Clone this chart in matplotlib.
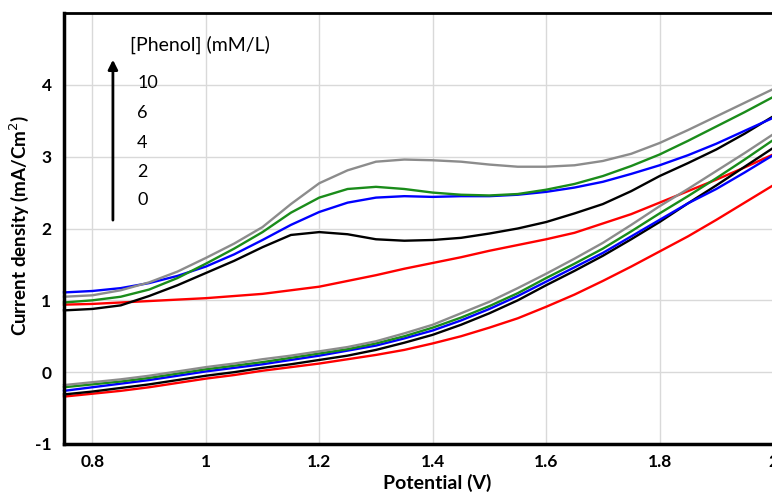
import matplotlib
matplotlib.use('Agg')
import matplotlib.pyplot as plt

plt.rcParams['axes.unicode_minus'] = False

# potential grid (V), shared by all branches
potential = [0.75, 0.80, 0.85, 0.90, 0.95, 1.00, 1.05, 1.10, 1.15, 1.20, 1.25, 1.30, 1.35,
             1.40, 1.45, 1.50, 1.55, 1.60, 1.65, 1.70, 1.75, 1.80, 1.85, 1.90, 1.95, 2.00]

# forward (upper) branches, mA/cm2
up_0 = [0.94, 0.95, 0.97, 0.99, 1.01, 1.03, 1.06, 1.09, 1.14, 1.19, 1.27, 1.35, 1.44,
        1.52, 1.60, 1.69, 1.77, 1.85, 1.94, 2.07, 2.20, 2.36, 2.52, 2.68, 2.85, 3.03]
up_2 = [0.86, 0.88, 0.93, 1.06, 1.21, 1.38, 1.55, 1.74, 1.91, 1.95, 1.92, 1.85, 1.83,
        1.84, 1.87, 1.93, 2.00, 2.09, 2.21, 2.34, 2.52, 2.73, 2.91, 3.10, 3.32, 3.56]
up_4 = [1.11, 1.13, 1.17, 1.24, 1.34, 1.47, 1.64, 1.84, 2.05, 2.23, 2.36, 2.43, 2.45,
        2.44, 2.45, 2.45, 2.47, 2.51, 2.57, 2.65, 2.76, 2.88, 3.02, 3.18, 3.36, 3.54]
up_6 = [0.97, 1.00, 1.05, 1.15, 1.31, 1.51, 1.72, 1.95, 2.22, 2.43, 2.55, 2.58, 2.55,
        2.50, 2.47, 2.46, 2.48, 2.54, 2.62, 2.73, 2.87, 3.03, 3.22, 3.42, 3.62, 3.83]
up_10 = [1.05, 1.07, 1.14, 1.25, 1.40, 1.59, 1.79, 2.02, 2.34, 2.63, 2.81, 2.93, 2.96,
         2.95, 2.93, 2.89, 2.86, 2.86, 2.88, 2.94, 3.04, 3.19, 3.37, 3.56, 3.75, 3.94]

# reverse (lower) branches, mA/cm2
low_0 = [-0.34, -0.30, -0.26, -0.21, -0.15, -0.09, -0.04, 0.02, 0.07, 0.12, 0.18, 0.24, 0.31,
         0.40, 0.50, 0.62, 0.75, 0.91, 1.08, 1.27, 1.47, 1.68, 1.89, 2.12, 2.36, 2.60]
low_2 = [-0.31, -0.27, -0.22, -0.17, -0.11, -0.05, 0.00, 0.06, 0.11, 0.17, 0.23, 0.31, 0.41,
         0.52, 0.66, 0.82, 1.00, 1.21, 1.41, 1.62, 1.85, 2.09, 2.35, 2.60, 2.86, 3.12]
low_4 = [-0.26, -0.21, -0.16, -0.11, -0.05, 0.01, 0.06, 0.11, 0.17, 0.23, 0.30, 0.37, 0.47,
         0.58, 0.72, 0.88, 1.06, 1.26, 1.46, 1.66, 1.89, 2.12, 2.35, 2.55, 2.78, 3.02]
low_6 = [-0.21, -0.17, -0.13, -0.08, -0.02, 0.04, 0.09, 0.14, 0.20, 0.26, 0.32, 0.40, 0.50,
         0.62, 0.76, 0.92, 1.10, 1.31, 1.51, 1.72, 1.96, 2.21, 2.45, 2.70, 2.96, 3.23]
low_10 = [-0.18, -0.14, -0.10, -0.05, 0.01, 0.07, 0.12, 0.18, 0.23, 0.29, 0.35, 0.43, 0.54,
          0.66, 0.82, 0.98, 1.17, 1.37, 1.58, 1.80, 2.05, 2.31, 2.55, 2.80, 3.05, 3.31]

conc_labels = ['10', '6', '4', '2', '0']
series = [(up_0, low_0, '#ff0000'),
          (up_2, low_2, '#000000'),
          (up_4, low_4, '#0000ff'),
          (up_6, low_6, '#1a8c1a'),
          (up_10, low_10, '#8c8c8c')]

fig = plt.figure(figsize=(7.72, 4.92), dpi=100)
ax = fig.add_axes([64 / 772, 48 / 492, 709 / 772, 431 / 492])

for up, low, col in series:
    ax.plot(potential, up, color=col, lw=1.7, clip_on=False)
    ax.plot(potential, low, color=col, lw=1.7, clip_on=False)

ax.set_xlim(0.75, 2.0)
ax.set_ylim(-1, 5)
ax.set_xticks([0.8, 1.0, 1.2, 1.4, 1.6, 1.8, 2.0])
ax.set_xticklabels(['0.8', '1', '1.2', '1.4', '1.6', '1.8', '2'])
ax.set_yticks([-1, 0, 1, 2, 3, 4])
ax.grid(True, color='#d9d9d9', lw=1)
ax.set_axisbelow(True)
ax.tick_params(axis='x', length=0, labelsize=12.5, pad=7)
ax.tick_params(axis='y', length=0, labelsize=12.5, pad=9)
for lab in ax.get_xticklabels() + ax.get_yticklabels():
    lab.set_fontweight('bold')
    lab.set_family('Lato')

ax.spines['left'].set_linewidth(2.5)
ax.spines['bottom'].set_linewidth(2.5)
ax.spines['top'].set_linewidth(2)
ax.spines['right'].set_visible(False)

ax.set_xlabel('Potential (V)', fontsize=14, fontweight='bold', family='Lato')
ax.xaxis.set_label_coords(0.527, -0.07)
ax.set_ylabel('Current density (mA/Cm$^2$)', fontsize=13.5, fontweight='bold', family='Lato')
ax.yaxis.set_label_coords(-0.047, 0.508)

# concentration annotation with arrow
ax.text(0.093, 0.926, '[Phenol] (mM/L)', transform=ax.transAxes, fontsize=14,
        family='Lato', va='center', ha='left')
ys = [0.838, 0.768, 0.698, 0.631, 0.566]
for lab, y in zip(conc_labels, ys):
    ax.text(0.103, y, lab, transform=ax.transAxes, fontsize=13, family='Lato',
            va='center', ha='left')
ax.annotate('', xy=(0.069, 0.898), xytext=(0.069, 0.513), xycoords='axes fraction',
            arrowprops=dict(arrowstyle='-|>', color='black', lw=2, mutation_scale=14))

fig.savefig('out.png', dpi=100)
